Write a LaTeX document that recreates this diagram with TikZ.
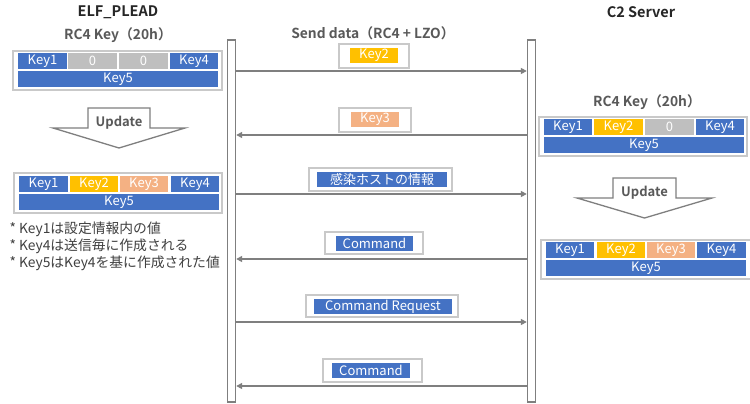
\documentclass[tikz,border=0pt]{standalone}
\usepackage{fontspec}
\setmainfont{Noto Sans CJK JP}[BoldFont={Noto Sans CJK JP Bold}]
\usetikzlibrary{arrows.meta}
\definecolor{kblue}{HTML}{4472C4}
\definecolor{kgold}{HTML}{FFC000}
\definecolor{ksalmon}{HTML}{F4B183}
\definecolor{kgray}{HTML}{BFBFBF}
\definecolor{kframe}{HTML}{C9C9C9}
\definecolor{kline}{HTML}{7F7F7F}
\definecolor{ktext}{HTML}{595959}
\newcommand{\kcell}[7]{\node[cell,fill=#6,minimum width={(#4-#2)*1pt},minimum height={(#5-#3)*1pt}] (#1) at ({(#2+#4)/2},{(#3+#5)/2}) {#7};}
\newcommand{\kframe}[5]{\node[frm,minimum width={(#4-#2)*1pt},minimum height={(#5-#3)*1pt}] (#1) at ({(#2+#4)/2},{(#3+#5)/2}) {};}
\begin{document}
\begin{tikzpicture}[x=1pt,y=-1pt,
  cell/.style={rectangle,inner sep=0pt,outer sep=0pt,text=white,font=\fontsize{13}{14}\selectfont},
  frm/.style={rectangle,draw=kframe,line width=1.6pt,fill=white,inner sep=0pt},
  ttl/.style={font=\bfseries\fontsize{14.5}{16}\selectfont,text=black!85},
  sub/.style={font=\bfseries\fontsize{13.8}{16}\selectfont,text=ktext},
  msg/.style={draw=kline,line width=1.6pt,-{Triangle[length=6pt,width=6pt]}},
  upd/.style={draw=kline,line width=1.3pt,fill=white},
  updtxt/.style={font=\bfseries\fontsize{13}{15}\selectfont,text=ktext},
  note/.style={font=\fontsize{13.8}{15}\selectfont,text=black!75,anchor=west}]
\useasboundingbox (0,0) rectangle (750,404);
\fill[white] (0,0) rectangle (750,404);
% titles
\node[ttl] (tleft) at (118,12) {ELF\_PLEAD};
\node[ttl] (tright) at (641,12) {C2 Server};
\node[sub] (sleft) at (118,35) {RC4 Key（20h）};
\node[sub] (smid) at (373,33) {Send data（RC4 + LZO）};
\node[sub] (sright) at (647,102) {RC4 Key（20h）};
% left key box 1
\kframe{lb1}{13}{51}{222}{90}
\kcell{l1a}{18}{53}{67}{69}{kblue}{Key1}
\kcell{l1b}{68}{53}{117}{69}{kgray}{0}
\kcell{l1c}{119}{53}{168}{69}{kgray}{0}
\kcell{l1d}{170}{53}{218}{69}{kblue}{Key4}
\kcell{l1e}{18}{71}{218}{87}{kblue}{Key5}
% left update arrow
\draw[upd] (88,108) -- (150,108) -- (150,128) -- (185,128) -- (119,148) -- (53,128) -- (88,128) -- cycle;
\node[updtxt] (lupd) at (119,123) {Update};
% left key box 2
\kframe{lb2}{14}{173}{222}{213}
\kcell{l2a}{19}{176}{68}{192}{kblue}{Key1}
\kcell{l2b}{70}{176}{118}{192}{kgold}{Key2}
\kcell{l2c}{120}{176}{168}{192}{ksalmon}{Key3}
\kcell{l2d}{171}{176}{219}{192}{kblue}{Key4}
\kcell{l2e}{19}{194}{219}{210}{kblue}{Key5}
% notes
\node[note] (n1) at (6,229) {* Key1は設定情報内の値};
\node[note] (n2) at (6,246) {* Key4は送信毎に作成される};
\node[note] (n3) at (6,263) {* Key5はKey4を基に作成された値};
% right key box 1
\kframe{rb1}{539}{117}{747}{156}
\kcell{r1a}{544}{119}{592}{135}{kblue}{Key1}
\kcell{r1b}{594}{119}{643}{135}{kgold}{Key2}
\kcell{r1c}{645}{119}{694}{135}{kgray}{0}
\kcell{r1d}{696}{119}{744}{135}{kblue}{Key4}
\kcell{r1e}{544}{137}{744}{153}{kblue}{Key5}
% right update arrow
\draw[upd] (613,178) -- (676,178) -- (676,198) -- (712,198) -- (644.5,218) -- (577,198) -- (613,198) -- cycle;
\node[updtxt] (rupd) at (644.5,193) {Update};
% right key box 2
\kframe{rb2}{541}{240}{751}{279}
\kcell{r2a}{546}{242}{594}{258}{kblue}{Key1}
\kcell{r2b}{597}{242}{645}{258}{kgold}{Key2}
\kcell{r2c}{647}{242}{695}{258}{ksalmon}{Key3}
\kcell{r2d}{697}{242}{746}{258}{kblue}{Key4}
\kcell{r2e}{546}{260}{746}{276}{kblue}{Key5}
% lifelines
\node[rectangle,draw=kline,line width=1.4pt,fill=white,minimum width=8pt,minimum height=362pt,inner sep=0pt] (L) at (231.5,221) {};
\node[rectangle,draw=kline,line width=1.4pt,fill=white,minimum width=8pt,minimum height=362pt,inner sep=0pt] (R) at (531.5,221) {};
% messages
\draw[msg] (L.east |- 0,71) -- (R.west |- 0,71);
\kframe{m1f}{339}{44}{409}{68}
\kcell{m1}{350}{48}{398}{63}{kgold}{Key2}
\draw[msg] (R.west |- 0,135) -- (L.east |- 0,135);
\kframe{m2f}{339}{108}{411}{132}
\kcell{m2}{351}{112}{399}{127}{ksalmon}{Key3}
\draw[msg] (L.east |- 0,194) -- (R.west |- 0,194);
\kframe{m3f}{309}{168}{452}{191}
\kcell{m3}{317}{172}{447}{187}{kblue}{感染ホストの情報}
\draw[msg] (R.west |- 0,259) -- (L.east |- 0,259);
\kframe{m4f}{325}{232}{423}{254}
\kcell{m4}{336}{236}{413}{251}{kblue}{Command}
\draw[msg] (L.east |- 0,322) -- (R.west |- 0,322);
\kframe{m5f}{306}{295}{458}{317}
\kcell{m5}{314}{299}{452}{314}{kblue}{Command Request}
\draw[msg] (R.west |- 0,386) -- (L.east |- 0,386);
\kframe{m6f}{323}{359}{422}{382}
\kcell{m6}{332}{363}{410}{378}{kblue}{Command}
\end{tikzpicture}
\end{document}
